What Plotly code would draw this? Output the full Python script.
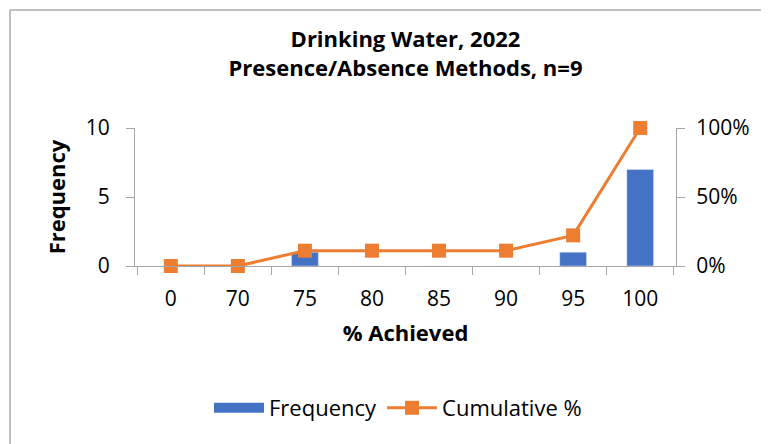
import plotly.graph_objects as go

# Données
categories = ["0", "70", "75", "80", "85", "90", "95", "100"]
frequency = [0, 0, 1, 0, 0, 0, 1, 7]
cumulative_pct = [0.0, 0.0, 0.111, 0.111, 0.111, 0.111, 0.222, 1.0]

BLUE = "#4472C4"
ORANGE = "#ED7D31"
GRAY = "#A6A6A6"
FONT = "Open Sans"

fig = go.Figure()

# Barres de fréquence
fig.add_trace(go.Bar(
    x=categories,
    y=frequency,
    name="Frequency",
    marker=dict(color=BLUE),
    width=0.4,
    showlegend=False,
))

# Entrée de légende (rectangle large)
fig.add_trace(go.Scatter(
    x=[None],
    y=[None],
    mode="lines",
    name="Frequency",
    line=dict(color=BLUE, width=13),
))

# Courbe cumulative
fig.add_trace(go.Scatter(
    x=categories,
    y=cumulative_pct,
    mode="lines+markers",
    name="Cumulative %",
    yaxis="y2",
    cliponaxis=False,
    line=dict(color=ORANGE, width=3),
    marker=dict(symbol="square", size=14, color=ORANGE),
))

fig.update_layout(
    width=769,
    height=444,
    margin=dict(l=127, r=101, t=120, b=186),
    paper_bgcolor="white",
    plot_bgcolor="white",
    font=dict(family=FONT, size=21, color="black"),
    title=dict(
        text="<b>Drinking Water, 2022<br>Presence/Absence Methods, n=9</b>",
        x=0.5, xref="paper", xanchor="center",
        y=1 - 39 / 444, yref="container", yanchor="top",
        font=dict(family=FONT, size=22),
    ),
    xaxis=dict(
        type="category", automargin=False,
        showline=True, linecolor=GRAY, linewidth=1,
        ticks="outside", tickson="boundaries", ticklen=8, tickcolor=GRAY,
        tickfont=dict(size=21), ticklabelstandoff=14,
        showgrid=False, zeroline=False,
        title=dict(text="<b>% Achieved</b>", standoff=14, font=dict(size=22)),
    ),
    yaxis=dict(
        range=[0, 10], dtick=5, automargin=False,
        showline=True, linecolor=GRAY, linewidth=1,
        ticks="outside", ticklen=8, tickcolor=GRAY,
        tickfont=dict(size=21), ticklabelstandoff=12,
        showgrid=False, zeroline=False,
        title=dict(text="<b>Frequency</b>", standoff=14, font=dict(size=22)),
    ),
    yaxis2=dict(
        range=[0, 1], dtick=0.5, tickformat=".0%", automargin=False,
        overlaying="y", side="right",
        showline=True, linecolor=GRAY, linewidth=1,
        ticks="outside", ticklen=8, tickcolor=GRAY,
        tickfont=dict(size=21), ticklabelstandoff=7,
        showgrid=False, zeroline=False,
    ),
    legend=dict(
        orientation="h",
        x=(390 - 127) / 541, xanchor="center",
        y=(258 - 400) / 138, yanchor="middle",
        font=dict(family=FONT, size=22),
        itemwidth=50,
    ),
)

# Bordure du graphique (haut et gauche)
x_left = (2 - 127) / 541
y_top = (258 - 2) / 138
fig.add_shape(type="line", xref="paper", yref="paper",
              x0=x_left, x1=x_left, y0=-2, y1=y_top,
              line=dict(color="#BFBFBF", width=2))
fig.add_shape(type="line", xref="paper", yref="paper",
              x0=x_left, x1=1.5, y0=y_top, y1=y_top,
              line=dict(color="#BFBFBF", width=2))

fig.write_html("out.html")
